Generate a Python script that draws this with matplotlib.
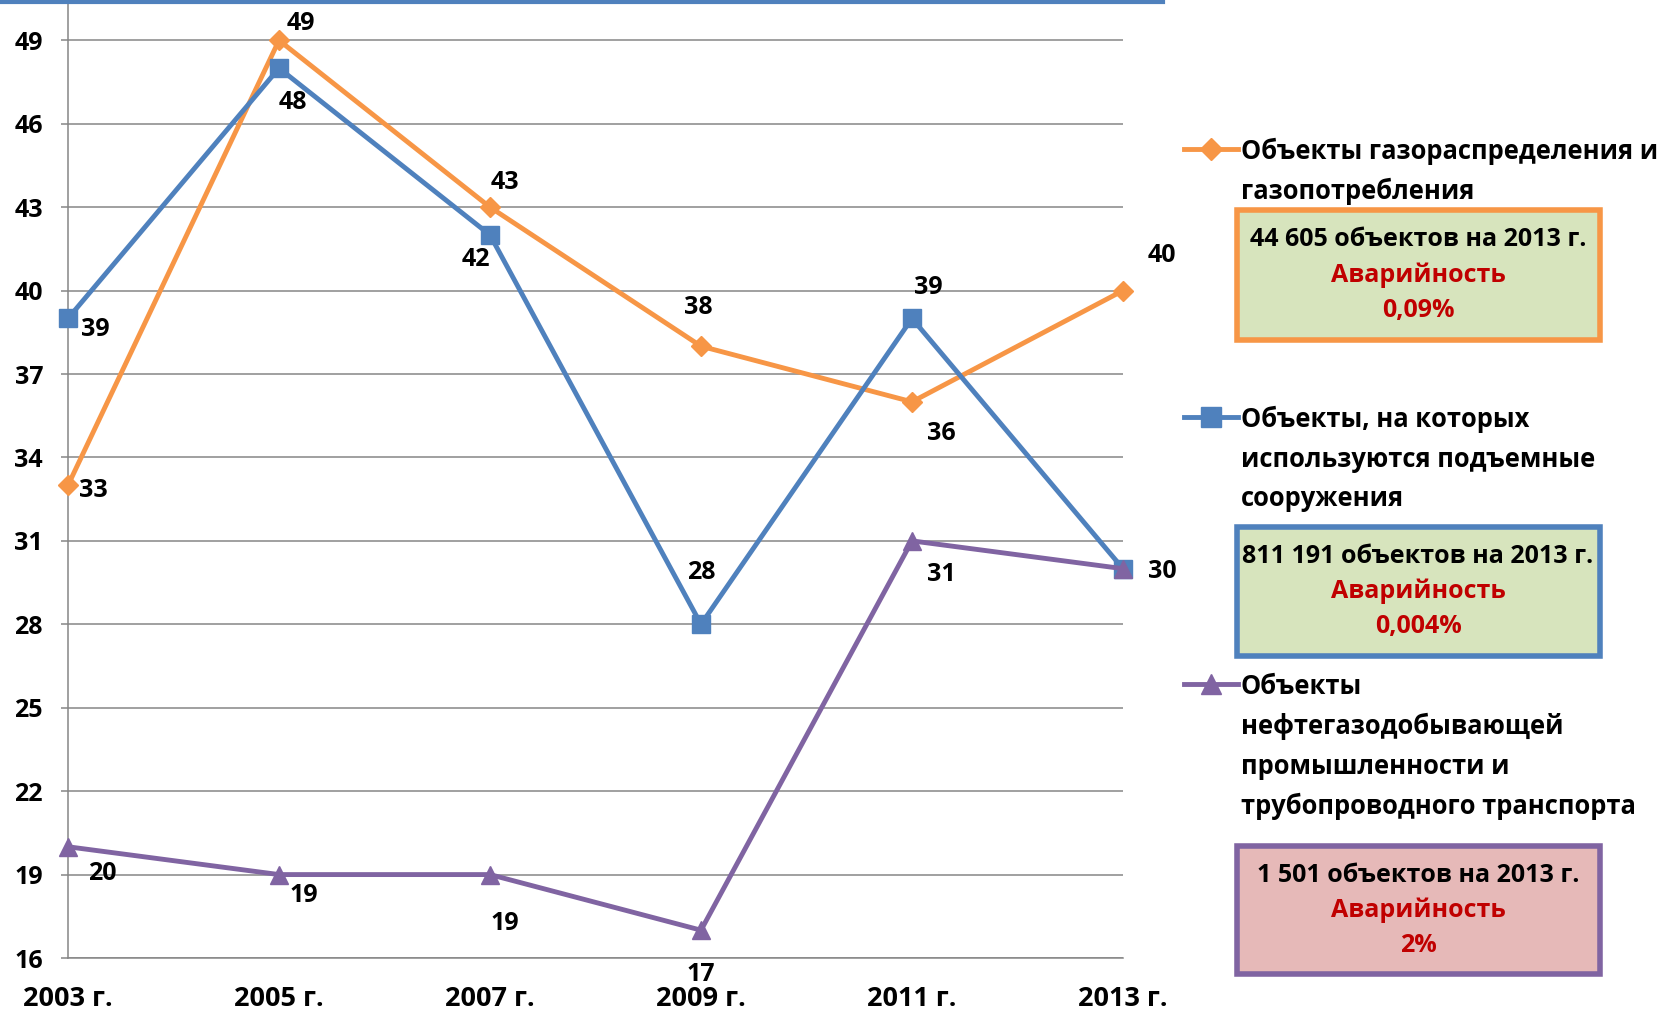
import matplotlib.pyplot as plt
from matplotlib.lines import Line2D
from matplotlib.patches import Rectangle

plt.rcParams['font.family'] = ['Open Sans', 'DejaVu Sans']
plt.rcParams['font.weight'] = 'bold'

W, H = 1673, 1014

years = ['2003 г.', '2005 г.', '2007 г.', '2009 г.', '2011 г.', '2013 г.']
gas = [33, 49, 43, 38, 36, 40]
lift = [39, 48, 42, 28, 39, 30]
oil = [20, 19, 19, 17, 31, 30]

names = ['Объекты газораспределения и\nгазопотребления',
         'Объекты, на которых\nиспользуются подъемные\nсооружения',
         'Объекты\nнефтегазодобывающей\nпромышленности и\nтрубопроводного транспорта']
counts = ['44 605 объектов на 2013 г.', '811 191 объектов на 2013 г.',
          '1 501 объектов на 2013 г.']
rates = ['0,09%', '0,004%', '2%']

colors = ['#F79646', '#4F81BD', '#8064A2']
markers = ['D', 's', '^']
msizes = [10, 13, 13]
box_fill = ['#D7E4BD', '#D7E4BD', '#E6B9B8']

# смещения подписей (в пунктах)
offsets = [
    [(18, -4), (16, 12), (11, 18), (-2, 28), (21, -23), (28, 25)],
    [(20, -8), (10, -25), (-10, -18), (0, 37), (12, 22), (28, -2)],
    [(25, -19), (18, -15), (11, -35), (0, -32), (21, -24), None],
]


def fx(px):
    return px / W


def fy(py):
    return 1 - py / H


fig = plt.figure(figsize=(W / 100, H / 100), dpi=100)
ax = fig.add_axes([fx(68), fy(958), fx(1123) - fx(68), fy(0) - fy(958)])

x = list(range(len(years)))
for i, vals in enumerate([gas, lift, oil]):
    ax.plot(x, vals, color=colors[i], lw=3.5, marker=markers[i],
            ms=msizes[i], clip_on=False, zorder=3 + i)
    for j, v in enumerate(vals):
        if offsets[i][j] is None:
            continue
        ax.annotate(str(v), (j, v), xytext=offsets[i][j], textcoords='offset points',
                    ha='center', va='center', fontsize=18, fontweight='bold',
                    annotation_clip=False, zorder=10)

ax.set_xlim(0, 5)
ax.set_ylim(16, 50.45)
ax.set_yticks(range(16, 50, 3))
ax.set_xticks(x)
ax.set_xticklabels(years)
ax.grid(axis='y', color='#868686', lw=1.1)
ax.set_axisbelow(True)
for s in ['top', 'right']:
    ax.spines[s].set_visible(False)
ax.spines['left'].set_color('#868686')
ax.spines['left'].set_linewidth(1.1)
ax.spines['bottom'].set_color('#868686')
ax.spines['bottom'].set_linewidth(1.1)
ax.tick_params(axis='y', length=5, width=1.1, color='#868686', pad=13, labelsize=18)
ax.tick_params(axis='x', length=0, pad=20, labelsize=19.5)
for lab in ax.get_xticklabels() + ax.get_yticklabels():
    lab.set_fontweight('bold')

# синяя линия сверху
fig.add_artist(Line2D([0, fx(1163)], [fy(1.5), fy(1.5)], color='#4F81BD', lw=3))

# легенда
leg_y = [149, 417, 684]
box_y = [(210, 340), (527, 656), (846, 974)]
for i in range(3):
    fig.add_artist(Line2D([fx(1184), fx(1238)], [fy(leg_y[i]), fy(leg_y[i])],
                          color=colors[i], lw=3.5))
    fig.add_artist(Line2D([fx(1211)], [fy(leg_y[i])], color=colors[i],
                          marker=markers[i], ms=msizes[i] + 1))
    fig.text(fx(1241), fy(leg_y[i] - 11), names[i], ha='left', va='top',
             fontsize=18.4, fontweight='bold', linespacing=1.6)
    y0, y1 = box_y[i]
    fig.add_artist(Rectangle((fx(1237), fy(y1)), fx(1600) - fx(1237), fy(y0) - fy(y1),
                             facecolor=box_fill[i], edgecolor=colors[i], lw=4))
    yc = (y0 + y1) / 2
    fig.text(fx(1418), fy(yc - 35), counts[i], ha='center', va='center',
             fontsize=18, fontweight='bold')
    fig.text(fx(1418), fy(yc), 'Аварийность', ha='center', va='center',
             fontsize=18, fontweight='bold', color='#C00000')
    fig.text(fx(1418), fy(yc + 35), rates[i], ha='center', va='center',
             fontsize=18, fontweight='bold', color='#C00000')

fig.savefig('out.png', dpi=100)
